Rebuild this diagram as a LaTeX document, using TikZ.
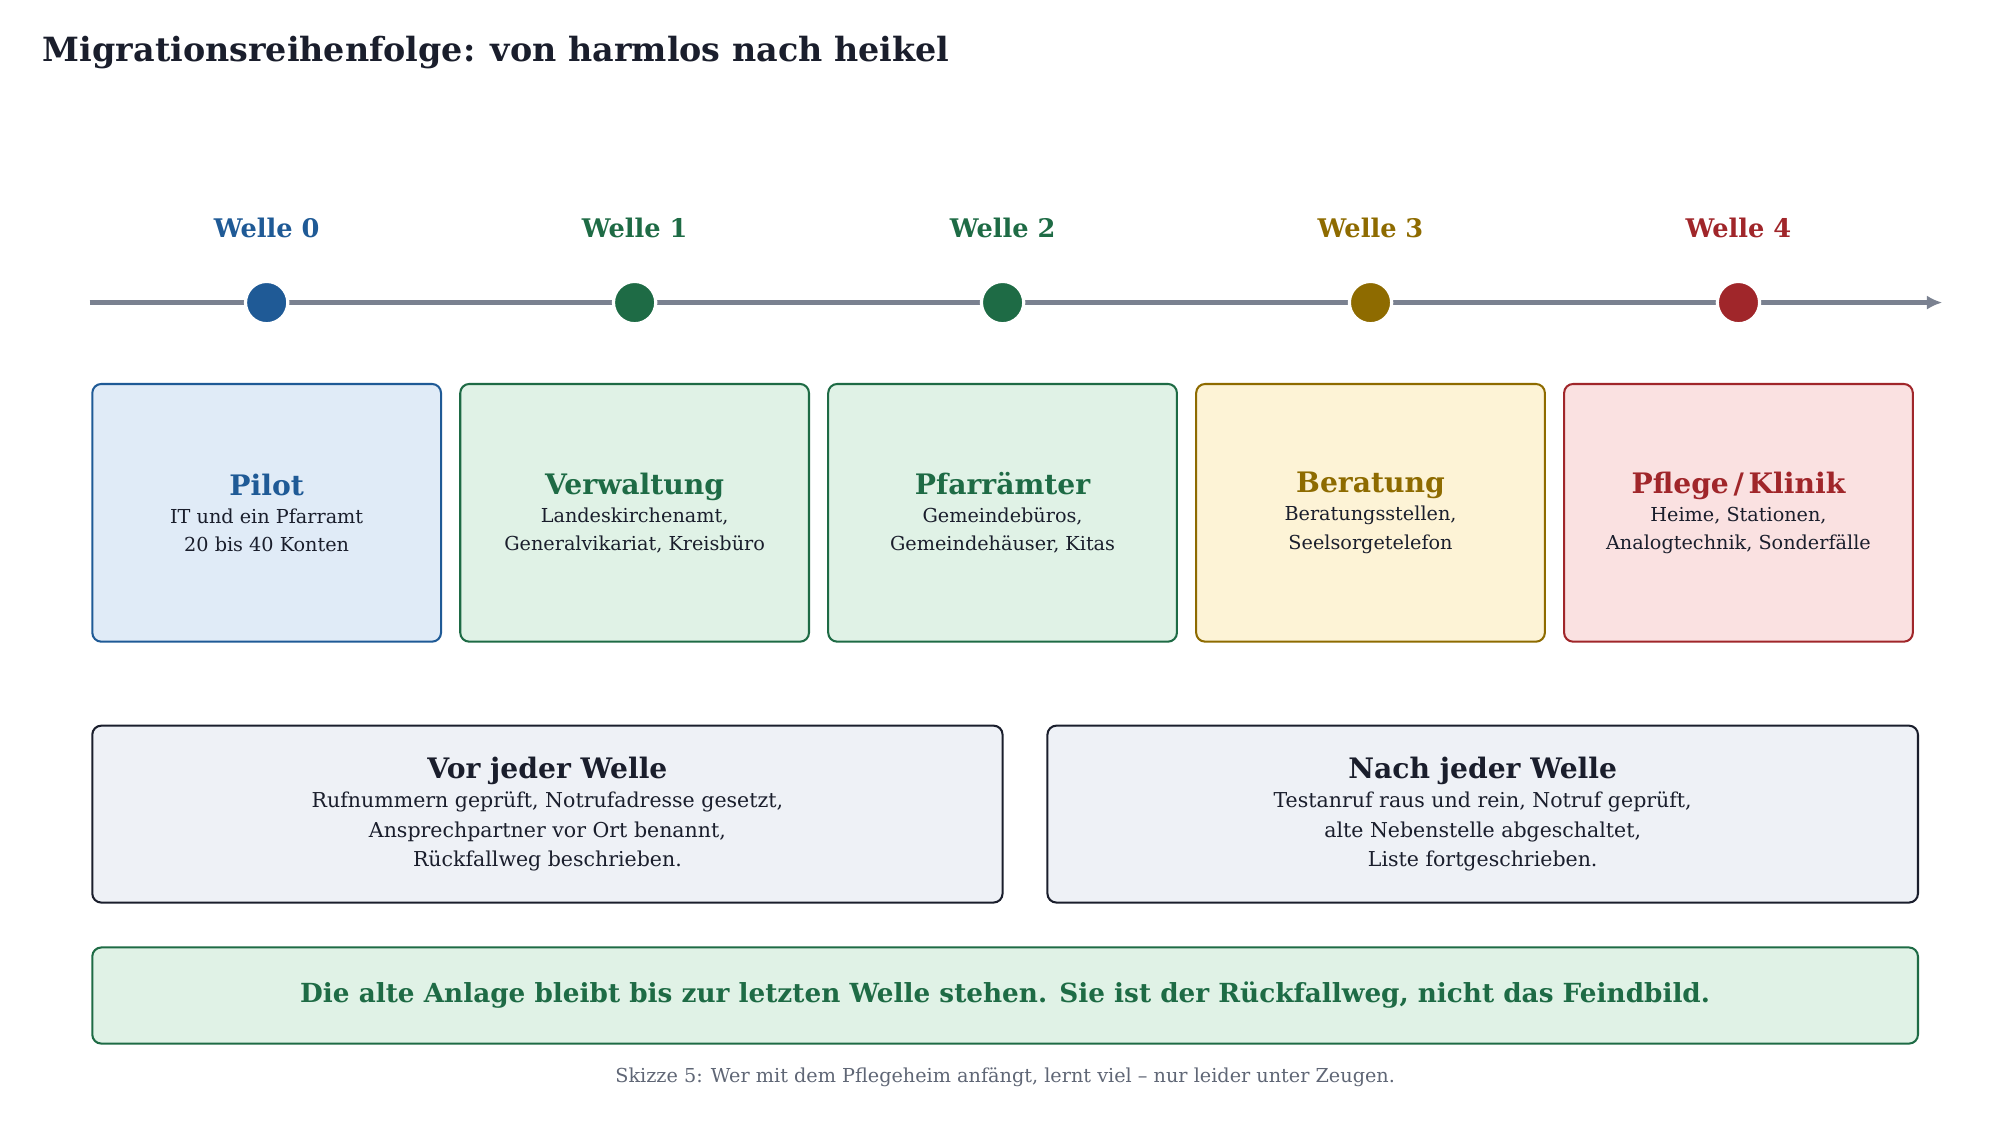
\documentclass[tikz,border=0pt]{standalone}
\usepackage{fontspec}
\setmainfont{DejaVu Serif}
\usetikzlibrary{arrows.meta}
\usetikzlibrary{positioning}
\definecolor{wblue}{HTML}{1F5A96}
\definecolor{wgreen}{HTML}{1E6B45}
\definecolor{wgold}{HTML}{8E6B00}
\definecolor{wred}{HTML}{A0262A}
\definecolor{fblue}{HTML}{E0EBF7}
\definecolor{fgreen}{HTML}{E0F2E6}
\definecolor{fgold}{HTML}{FDF3D6}
\definecolor{fred}{HTML}{FAE1E1}
\definecolor{fgrey}{HTML}{EEF1F6}
\definecolor{dark}{HTML}{1A1E2C}
\definecolor{axis}{HTML}{7A8190}
\definecolor{capt}{HTML}{5F6675}
\tikzset{
	wave/.style={draw=#1, line width=1.6pt, rounded corners=7pt, minimum width=272pt, minimum height=201pt, align=center, font=\fontsize{15}{22}\selectfont, text=dark},
	dot/.style={circle, fill=#1, draw=white, line width=2.5pt, minimum size=33pt, inner sep=0pt},
	wlabel/.style={text=#1, font=\fontsize{20}{24}\selectfont\bfseries},
	rule/.style={draw=dark, fill=fgrey, line width=1.6pt, rounded corners=7pt, minimum height=138pt, align=center, font=\fontsize{16}{23}\selectfont, text=dark},
}
\begin{document}
\begin{tikzpicture}[x=1pt, y=-1pt]
	\useasboundingbox (0,0) rectangle (1560,875);
	\node (title) [anchor=west, text=dark, font=\fontsize{26}{30}\selectfont\bfseries] at (30,41) {Migrationsreihenfolge: von harmlos nach heikel};

	\coordinate (axis start) at (70,236);
	\coordinate (axis end) at (1515,236);
	\draw[axis, line width=3.5pt, -{Latex[length=12pt,width=11pt]}] (axis start) -- (axis end);

	\foreach \i/\x/\c/\f/\name/\text in {
		0/208/wblue/fblue/{Pilot}/{IT und ein Pfarramt\\20 bis 40 Konten},
		1/495/wgreen/fgreen/{Verwaltung}/{Landeskirchenamt,\\Generalvikariat, Kreisbüro},
		2/782/wgreen/fgreen/{Pfarrämter}/{Gemeindebüros,\\Gemeindehäuser, Kitas},
		3/1069/wgold/fgold/{Beratung}/{Beratungsstellen,\\Seelsorgetelefon},
		4/1356/wred/fred/{Pflege\,/\,Klinik}/{Heime, Stationen,\\Analogtechnik, Sonderfälle}} {
		\node (dot\i) [dot=\c] at (\x,236) {};
		\node (welle\i) [wlabel=\c] at (\x,178) {Welle \i};
		\node (box\i) [wave=\c, fill=\f] at (\x,400) {{\color{\c}\fontsize{22}{28}\selectfont\bfseries \name}\\\text};
	}

	\node (before) [rule, minimum width=710pt] at (427,635) {{\fontsize{22}{27}\selectfont\bfseries Vor jeder Welle}\\Rufnummern geprüft, Notrufadresse gesetzt,\\Ansprechpartner vor Ort benannt,\\Rückfallweg beschrieben.};
	\node (after) [rule, minimum width=679pt] at (1156.5,635) {{\fontsize{22}{27}\selectfont\bfseries Nach jeder Welle}\\Testanruf raus und rein, Notruf geprüft,\\alte Nebenstelle abgeschaltet,\\Liste fortgeschrieben.};

	\node (banner) [draw=wgreen, fill=fgreen, line width=1.6pt, rounded corners=7pt, minimum width=1424pt, minimum height=75pt, text=wgreen, font=\fontsize{20.5}{24}\selectfont\bfseries] at (784,776.5) {Die alte Anlage bleibt bis zur letzten Welle stehen. Sie ist der Rückfallweg, nicht das Feindbild.};
	\node (caption) [text=capt, font=\fontsize{15}{18}\selectfont] at (784,840) {Skizze 5: Wer mit dem Pflegeheim anfängt, lernt viel – nur leider unter Zeugen.};
\end{tikzpicture}
\end{document}
